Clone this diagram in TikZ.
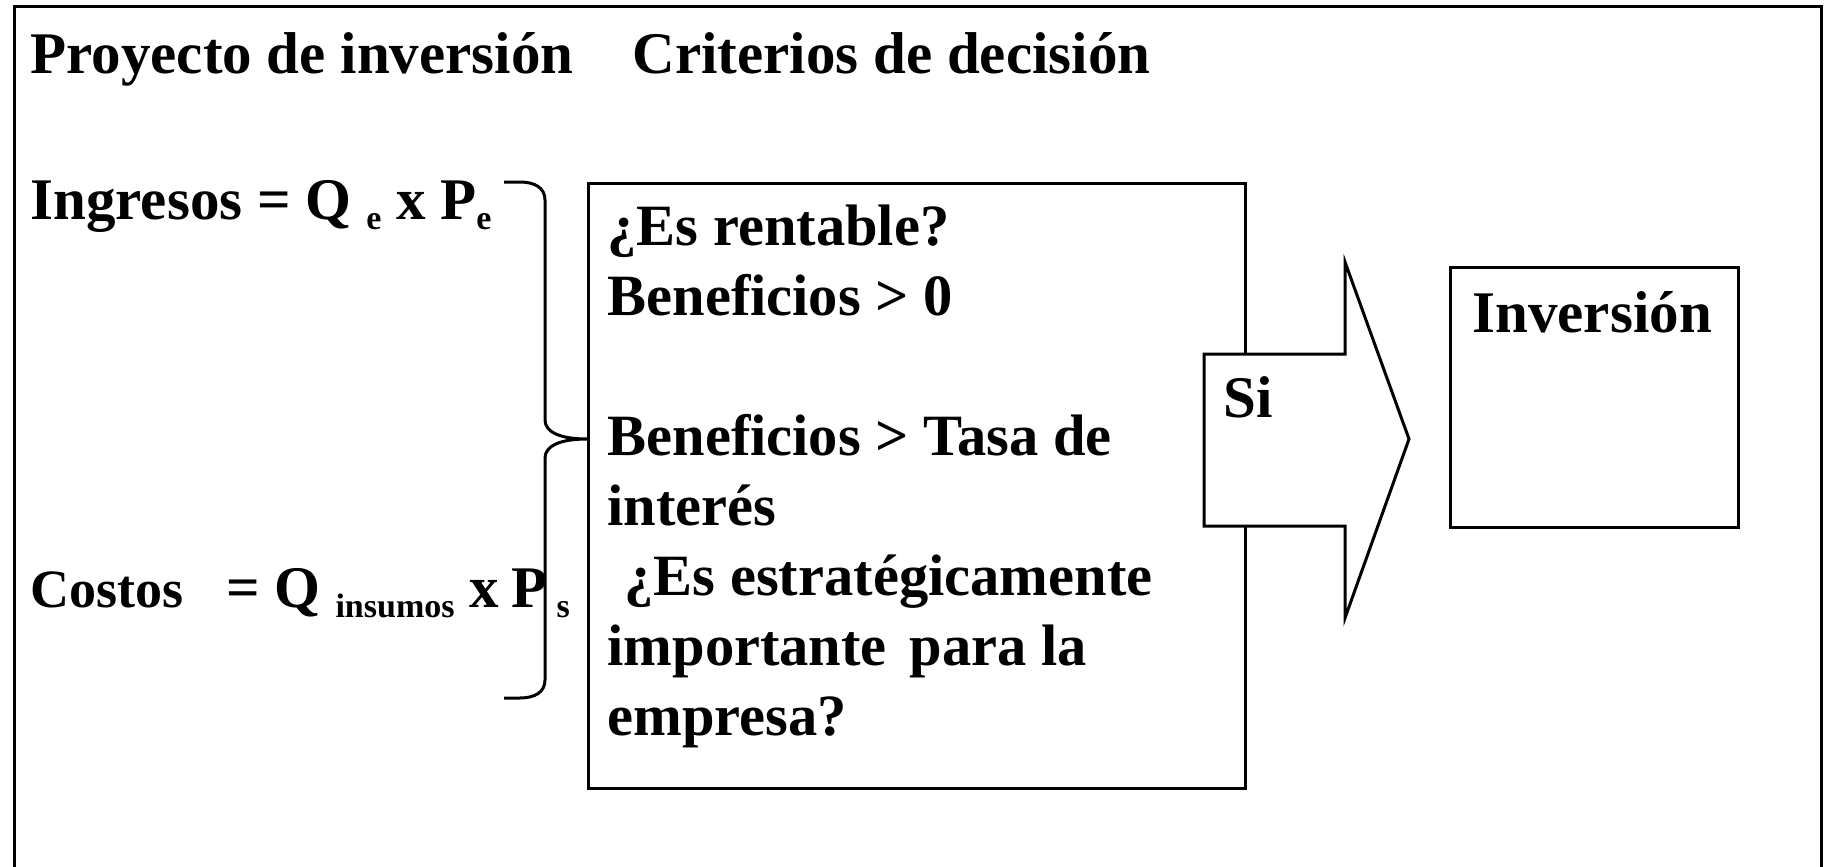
\documentclass[tikz,border=0pt]{standalone}
\usepackage{fontspec}
\setmainfont{Liberation Serif}
\usetikzlibrary{calc}
\newcommand{\subidx}[1]{\raisebox{-10pt}{\fontsize{34}{34}\selectfont #1}}
\newcommand{\renglon}[3]{\node[txt, font=\fontsize{58.5}{70}\selectfont\bfseries] (#1) at (606,#2) {#3};}

\begin{document}
\begin{tikzpicture}[x=1pt, y=-1pt, line width=3pt,
    txt/.style={anchor=base west, inner sep=0pt, font=\fontsize{59}{70}\selectfont\bfseries}]
        \useasboundingbox (0,0) rectangle (1828,867);
        % marco
        \draw (14,867) -- (14,7) -- (1821,7) -- (1821,867);
        % titulo
        \node[txt] (proy) at (29,74) {Proyecto de inversi\'on};
        \node[txt] (crit0) at (631,74) {Criterios de decisi\'on};
        % ingresos y costos
        \node[txt] (ing) at (29,219) {Ingresos = Q \subidx{e} x P\subidx{e}};
        \node[txt] (cost) at (29,607)
            {{\fontsize{54}{70}\selectfont Costos}\hspace{43pt}= Q \subidx{insumos} x\hspace{-2pt} P\hspace{9pt}\subidx{s}};
        % caja de criterios
        \node[draw, fill=white, anchor=north west, minimum width=657, minimum height=605] (crit) at (587,182) {};
        \renglon{l1}{245}{¿Es rentable?}
        \renglon{l2}{315}{Beneficios > 0}
        \renglon{l3}{455}{Beneficios > Tasa de}
        \renglon{l4}{525}{inter\'es}
        \renglon{l5}{595}{\hspace{17pt}¿Es estrat\'egicamente}
        \renglon{l6}{665}{importante\hspace{8pt} para la}
        \renglon{l7}{735}{empresa?}
        % llave
        \coordinate (punta) at ($(crit.north west)+(0,257)$);
        \draw (504,182) -- (520,182) .. controls (535,182) and (545,188) .. (545,200)
            -- (545,420) .. controls (545,432) and (560,439) .. (punta)
            .. controls (560,439) and (545,446) .. (545,458)
            -- (545,680) .. controls (545,692) and (535,698) .. (520,698) -- (504,698);
        % flecha
        \filldraw[fill=white] (1204,354) -- (1345,354) -- (1345,262) -- (1409,439)
            -- (1345,618) -- (1345,526) -- (1204,526) -- cycle;
        \node[txt] (si) at (1222,417) {Si};
        % inversion
        \node[draw, anchor=north west, minimum width=288, minimum height=260] (invbox) at (1449,266) {};
        \node[txt] (inv) at (1471,332) {Inversi\'on};
\end{tikzpicture}
\end{document}
